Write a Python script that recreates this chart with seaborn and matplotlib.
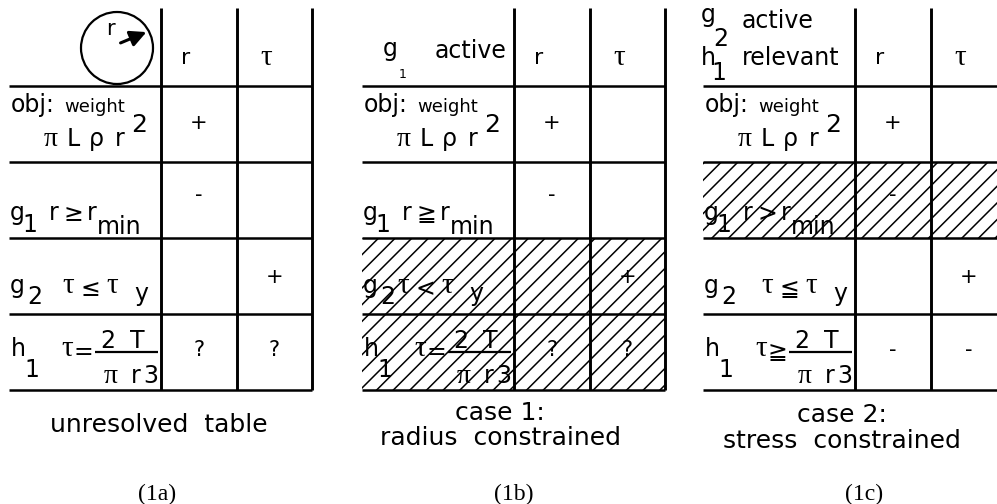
import matplotlib

matplotlib.use("Agg")

import matplotlib.pyplot as plt
import seaborn as sns
from matplotlib.patches import Circle, Rectangle

# ---- table content ----
TABLE_TAGS = ["(1a)", "(1b)", "(1c)"]
CAPTIONS = [["unresolved  table"], ["case 1:", "radius  constrained"], ["case 2:", "stress  constrained"]]
COLUMNS = ["r", "τ"]
SIGNS = [
    [["+", ""], ["-", ""], ["", "+"], ["?", "?"]],
    [["+", ""], ["-", ""], ["", "+"], ["?", "?"]],
    [["+", ""], ["-", ""], ["", "+"], ["-", "-"]],
]
HATCHED_ROWS = [[], [2, 3], [1]]
G1_REL = ["≥", "≧", ">"]
G2_REL = ["≤", "<", "≦"]
H1_REL = ["=", "=", "≧"]

# ---- layout in pixels ----
LEFTS = [9, 362, 703]
COL_W = [152, 76, 75]
ROW_Y = [8, 85.5, 162, 238, 314, 390]
G2_SHIFT = [0, -18, 5]
CAP_X = [159, 500, 842]
CAP_BASE = [[432], [420, 445], [422, 448]]
TAG_X = [157, 514, 864]

SANS = ["DejaVu Sans"]
SERIF = ["Liberation Serif", "DejaVu Serif"]
SYM = ["DejaVu Sans"]
LW = 1.8

sns.set_theme(style="white")
plt.rcParams["font.family"] = SANS
plt.rcParams["hatch.linewidth"] = 1.1
plt.rcParams["hatch.color"] = "black"

fig = plt.figure(figsize=(9.97, 5.04), dpi=100)
ax = fig.add_axes([0, 0, 1, 1])
ax.set_xlim(0, 997)
ax.set_ylim(504, 0)
ax.axis("off")


def put(x, y, s, size=17, fam=SANS, ha="center", va="baseline"):
    ax.text(x, y, s, fontsize=size, family=fam, ha=ha, va=va, color="black", zorder=3)


def header(t, L):
    if t == 0:
        ax.add_patch(Circle((L + 108, 48), 36, fill=False, lw=1.6, color="black", zorder=3))
        ax.annotate("", xy=(L + 140, 31), xytext=(L + 109, 44),
                    arrowprops=dict(arrowstyle="-|>", color="black", lw=2.2, mutation_scale=24))
        put(L + 101, 35, "r", 15)
    elif t == 1:
        put(L + 28, 56, "g")
        put(L + 41, 78, "1", 9)
        put(L + 73, 58, "active", ha="left")
    else:
        put(L + 5, 22, "g")
        put(L + 18, 46, "2")
        put(L + 39, 28, "active", ha="left")
        put(L + 5, 65, "h")
        put(L + 16, 80, "1")
        put(L + 39, 65, "relevant", ha="left")


def row_labels(t, L):
    # objective row
    put(L + 2, 112, "obj:", 17, ha="left")
    put(L + 55, 112, "weight", 13, ha="left")
    put(L + 42, 146, "π", 20, SERIF)
    put(L + 64, 146, "L")
    put(L + 87, 146, "ρ")
    put(L + 111, 146, "r")
    put(L + 130, 132, "2", 18)
    # g1 row
    put(L + 8, 220, "g")
    put(L + 21, 232, "1")
    put(L + 45, 220, "r")
    put(L + 64, 221, G1_REL[t], 17, SYM)
    put(L + 83, 220, "r")
    put(L + 88, 234, "min", ha="left")
    # g2 row
    s = G2_SHIFT[t]
    put(L + 8, 293, "g")
    put(L + 26, 304, "2")
    put(L + 59 + s, 293, "τ", 21, SERIF)
    put(L + 81 + s, 296, G2_REL[t], 17, SYM)
    put(L + 103 + s, 293, "τ", 21, SERIF)
    put(L + 132 + s, 301, "y")
    # h1 row
    put(L + 9, 356, "h")
    put(L + 23, 377, "1")
    put(L + 58, 356, "τ", 21, SERIF)
    put(L + 74, 352, H1_REL[t], 17, SYM, va="center")
    ax.plot([L + 86, L + 149], [352, 352], color="black", lw=1.6, solid_capstyle="butt")
    put(L + 99, 348, "2")
    put(L + 128, 348, "T")
    put(L + 102, 383, "π", 20, SERIF)
    put(L + 127, 383, "r")
    put(L + 142, 383, "3")


for t, L in enumerate(LEFTS):
    xs = [L, L + COL_W[0], L + COL_W[0] + COL_W[1], L + sum(COL_W)]
    for r in HATCHED_ROWS[t]:
        ax.add_patch(Rectangle((L, ROW_Y[r + 1]), sum(COL_W), ROW_Y[r + 2] - ROW_Y[r + 1],
                               fill=False, hatch="//", lw=0, edgecolor="black", zorder=1))
    for y in ROW_Y[1:]:
        ax.plot([L, xs[-1]], [y, y], color="black", lw=LW, solid_capstyle="butt", zorder=2)
    for x in xs[1:]:
        ax.plot([x, x], [ROW_Y[0], ROW_Y[-1]], color="black", lw=LW + 0.3, solid_capstyle="butt", zorder=2)

    put(xs[1] + 25, 58, COLUMNS[0], 16, va="center")
    put(xs[2] + 29, 58, COLUMNS[1], 21, SERIF, va="center")

    sign_y = [123, 195, 277, 350]
    for i, row in enumerate(SIGNS[t]):
        for j, s in enumerate(row):
            if s:
                cx = (xs[j + 1] + xs[j + 2]) / 2
                put(cx, sign_y[i], s, 15, va="center")

    header(t, L)
    row_labels(t, L)

    for line, yb in zip(CAPTIONS[t], CAP_BASE[t]):
        put(CAP_X[t], yb, line, 18)
    put(TAG_X[t], 500, TABLE_TAGS[t], 17, SERIF)

fig.savefig("out.png", dpi=100)
